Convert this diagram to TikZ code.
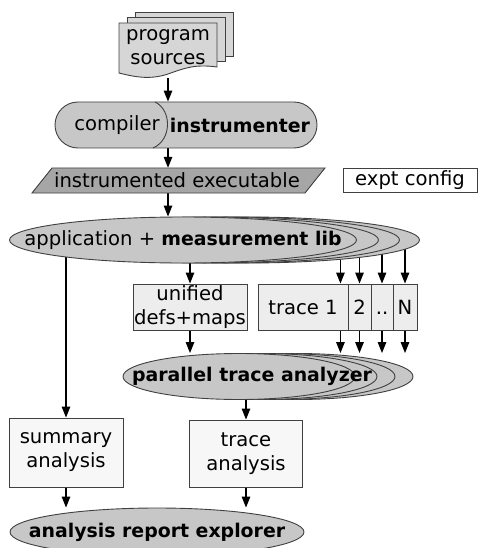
\documentclass[tikz,border=0pt]{standalone}
\usepackage{fontspec}
\setmainfont{DejaVu Sans}
\usepackage{tikz}
\usetikzlibrary{arrows.meta,shapes.geometric,shapes.misc}
\pgfdeclarelayer{back}
\pgfsetlayers{back,main}
\definecolor{ovalgray}{gray}{0.78}
\definecolor{exegray}{gray}{0.65}
\definecolor{boxgray}{gray}{0.93}
\definecolor{pagegray}{gray}{0.97}
\definecolor{sheetgray}{gray}{0.84}
\definecolor{linegray}{gray}{0.25}
\newcommand{\bt}[1]{{\fontsize{18.9}{24}\selectfont\bfseries #1}}

\begin{document}
\begin{tikzpicture}[x=1pt,y=-1pt,
	every node/.style={font=\fontsize{19.6}{24}\selectfont,inner sep=0pt},
	oval/.style={ellipse,draw=linegray,line width=0.9pt,fill=ovalgray,minimum height=46pt},
	box/.style={rectangle,draw=linegray,line width=0.9pt,fill=boxgray,minimum height=46pt,align=center},
	flow/.style={-{Triangle[length=11pt,width=8.5pt]},line width=1.3pt}]
\useasboundingbox (0,0) rectangle (479,548);
% program sources
\foreach \dx/\dy in {16/-11,8/-6}{
	\draw[draw=linegray,line width=0.9pt,fill=sheetgray] (119+\dx,23+\dy) rectangle (217+\dx,67+\dy);
}
\draw[draw=linegray,line width=0.9pt,fill=sheetgray] (119,23) -- (217,23) -- (217,67) .. controls (195,64) and (185,68) .. (168,74) .. controls (150,80) and (135,77) .. (119,73) -- cycle;
\node (src) [align=center,minimum height=62pt] at (168,47) {program\\sources};
% compiler + instrumenter
\node (ci) [rounded rectangle,draw=linegray,line width=0.9pt,fill=ovalgray,minimum width=262pt,minimum height=46pt] at (186,125) {};
\draw[linegray,line width=0.9pt] (155,102) .. controls (172,110) and (172,140) .. (153,148);
\node (comp) at (117,125) {compiler};
\node (instr) at (240,125) {\bt{instrumenter}};
% executable
\draw[draw=linegray,line width=0.9pt,fill=exegray] (32,193) -- (52,168) -- (325,168) -- (305,193) -- cycle;
\node (exe) [minimum height=25pt] at (177,180.5) {instrumented executable};
\node (cfg) [draw=linegray,line width=0.9pt,fill=white,minimum width=134pt,minimum height=24pt] at (410,180) {expt config};
% application processes
\foreach \i/\dx in {4/63,3/43,2/22}{
	\node (app\i) [oval,minimum width=347pt] at (183+\dx,240) {};
}
\node (app1) [oval,minimum width=347pt] at (183,240) {};
\node (appt) at (183,240) {application + \bt{measurement lib}};
% definitions and traces
\node (ud) [box,minimum width=114pt] at (190,307) {unified\\defs+maps};
\node (t1) [box,minimum width=90pt] at (303,307) {trace 1};
\node (t2) [box,minimum width=23pt] at (359.5,307) {2};
\node (t3) [box,minimum width=22pt] at (382,307) {\vphantom{N}..};
\node (tN) [box,minimum width=24pt] at (405,307) {N};
\coordinate (t1in) at ([xshift=-8pt]t1.north east);
\coordinate (t1out) at ([xshift=-8pt]t1.south east);
% parallel analyzer processes
\foreach \i/\dx in {4/58,3/40,2/22}{
	\node (pta\i) [oval,minimum width=232pt] at (239+\dx,376.5) {};
}
\node (pta1) [oval,minimum width=232pt] at (239,376.5) {};
\node (ptat) at (252,376) {\bt{parallel trace analyzer}};
% analyses and explorer
\node (sa) [box,fill=pagegray,minimum width=114pt,minimum height=69pt] at (66,452.5) {summary\\analysis};
\node (ta) [box,fill=pagegray,minimum width=113pt,minimum height=67pt] at (246,453.5) {trace\\analysis};
\node (are) [oval,minimum width=294pt,minimum height=48pt] at (157,532) {};
\node (aret) at (157,532) {\bt{analysis report explorer}};
% connectors
\begin{pgfonlayer}{back}
\draw[flow] (src.south) -- (src.south |- ci.north);
\draw[flow] (src.south |- ci.south) -- (src.south |- exe.north);
\draw[flow] (src.south |- exe.south) -- (src.south |- app1.north);
\draw[flow] (ud |- app1.center) -- (ud.north);
\draw[flow] (sa |- app1.center) -- (sa.north);
\draw[flow] (ud.south) -- (ud.south |- pta1.north);
\draw[flow] (t1in |- app1.center) -- (t1in);
\draw[flow] (t1out) -- (t1out |- pta1.north);
\foreach \t in {2,3,N}{
	\draw[flow] (t\t |- app1.center) -- (t\t.north);
	\draw[flow] (t\t.south) -- (t\t.south |- pta1.north);
}
\draw[flow] (ta |- pta1.center) -- (ta.north);
\draw[flow] (sa.south) -- (sa.south |- are.north);
\draw[flow] (ta.south) -- (ta.south |- are.north);
\end{pgfonlayer}
\end{tikzpicture}
\end{document}
